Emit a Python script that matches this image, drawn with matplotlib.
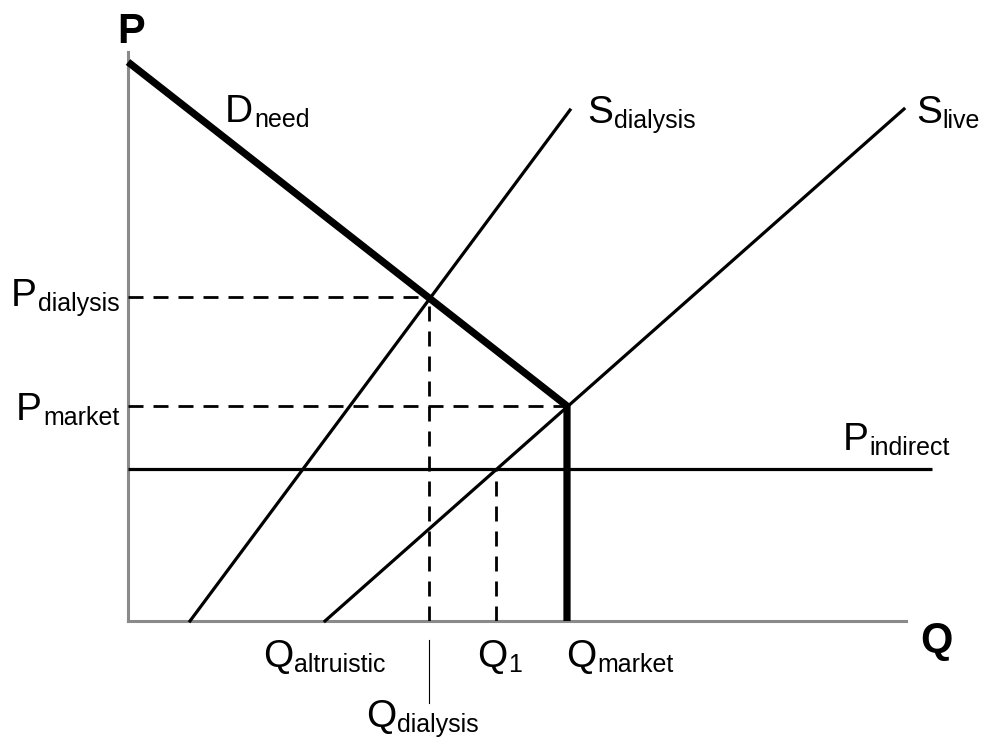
import matplotlib
matplotlib.use("Agg")
import matplotlib.pyplot as plt

plt.rcParams['font.family'] = ['Liberation Sans', 'DejaVu Sans']

# curves (Q, P)
demand_q = [0.0, 43.9]
demand_p = [55.9, 21.5]
s_dialysis_q = [6.2, 44.2]
s_dialysis_p = [0.0, 51.1]
s_live_q = [19.7, 77.6]
s_live_p = [0.0, 51.2]

# key levels
q_market = 43.9
p_market = 21.5
q_dialysis = 30.1
p_dialysis = 32.4
q_one = 36.8
p_indirect = 15.2
p_indirect_end = 80.4

q_max = 77.8
p_max = 56.9

# labels: (main letter, subscript, Q, P of baseline)
labels = [
    ('D', 'need', 9.7, 49.9),
    ('S', 'dialysis', 45.9, 49.8),
    ('S', 'live', 78.8, 49.8),
    ('P', 'indirect', 71.5, 17.1),
    ('P', 'dialysis', -11.7, 31.5),
    ('P', 'market', -11.2, 20.1),
    ('Q', 'altruistic', 13.5, -4.6),
    ('Q', '1', 34.9, -4.6),
    ('Q', 'market', 43.8, -4.6),
    ('Q', 'dialysis', 23.8, -10.6),
]

fig = plt.figure(figsize=(9.87, 7.40), dpi=100)
ax = fig.add_axes([128 / 987, (740 - 621) / 740, (906 - 128) / 987, (621 - 52) / 740])
ax.set_xlim(0, q_max)
ax.set_ylim(0, p_max)
ax.set_xticks([])
ax.set_yticks([])
for side in ['top', 'right']:
    ax.spines[side].set_visible(False)
for side in ['left', 'bottom']:
    ax.spines[side].set_color('#8a8a8a')
    ax.spines[side].set_linewidth(2.2)
    ax.spines[side].set_zorder(1)

dash = dict(color='black', lw=2.0, ls=(0, (5.4, 3.6)), zorder=2)
ax.plot([0, q_dialysis], [p_dialysis, p_dialysis], **dash)
ax.plot([q_dialysis, q_dialysis], [0, p_dialysis], **dash)
ax.plot([0, q_market], [p_market, p_market], **dash)
ax.plot([q_one, q_one], [0, p_indirect], **dash)

ax.plot([0, p_indirect_end], [p_indirect, p_indirect], color='black', lw=2.3,
        solid_capstyle='butt', clip_on=False, zorder=3)
ax.plot(s_dialysis_q, s_dialysis_p, color='black', lw=2.3, clip_on=False, zorder=3)
ax.plot(s_live_q, s_live_p, color='black', lw=2.3, clip_on=False, zorder=3)
ax.plot(demand_q + [q_market], demand_p + [0], color='black', lw=5.2,
        solid_joinstyle='miter', solid_capstyle='butt', clip_on=False, zorder=4)

# small line pointing to the Q_dialysis label
ax.plot([q_dialysis, q_dialysis], [-1.9, -8.2], color='black', lw=0.8, clip_on=False)

ax.text(0.3, 57.8, 'P', fontsize=30, fontweight='bold', ha='center', va='baseline')
ax.text(80.8, -3.1, 'Q', fontsize=30, fontweight='bold', ha='center', va='baseline')

renderer = fig.canvas.get_renderer()
for main, sub, q, p in labels:
    t = ax.text(q, p, main, fontsize=28, ha='left', va='baseline', clip_on=False)
    bb = t.get_window_extent(renderer)
    x0 = ax.transData.transform((q, p))[0]
    ax.annotate(sub, xy=(q, p), xytext=(bb.x1 - x0 + 1, -5), textcoords='offset pixels',
                fontsize=18, ha='left', va='baseline', annotation_clip=False)

fig.savefig('out.png', dpi=100)
